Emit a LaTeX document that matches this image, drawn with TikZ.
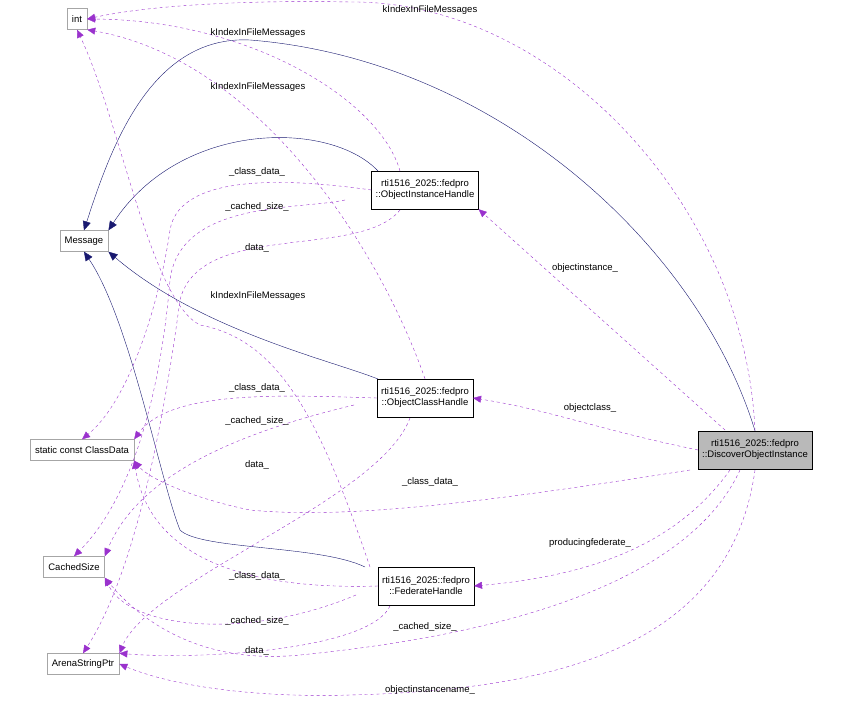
\documentclass[tikz,border=0pt]{standalone}
\usepackage{fontspec}
\setmainfont{Liberation Sans}
\usetikzlibrary{arrows.meta}
\definecolor{pur}{HTML}{9A32CD}
\definecolor{nav}{HTML}{191970}
\begin{document}
\begin{tikzpicture}[x=1pt,y=-1pt,font=\fontsize{9.5}{11}\selectfont,
  ext/.style={draw=gray!70,fill=white,minimum height=21pt,inner xsep=5pt},
  cls/.style={draw=black,fill=white,align=center,minimum height=38pt,inner xsep=4pt},
  dep/.style={pur,dashed,-{Triangle[length=8pt,width=7pt]}},
  inh/.style={nav,-{Triangle[length=9pt,width=8pt]}},
  lab/.style={fill=none,inner sep=1pt}]
\useasboundingbox (0,0) rectangle (845,703);
\node[ext] (int) at (77,19) {int};
\node[ext] (msg) at (84,241) {Message};
\node[ext] (cd) at (82,450) {static const ClassData};
\node[ext] (cs) at (74,567) {CachedSize};
\node[ext] (asp) at (83,664) {ArenaStringPtr};
\node[cls] (oih) at (425,190) {rti1516\_2025::fedpro\\::ObjectInstanceHandle};
\node[cls] (och) at (425,398) {rti1516\_2025::fedpro\\::ObjectClassHandle};
\node[cls] (fh) at (426,586) {rti1516\_2025::fedpro\\::FederateHandle};
\node[cls,fill=gray!55] (doi) at (755,450) {rti1516\_2025::fedpro\\::DiscoverObjectInstance};
% inheritance
\draw[inh] (doi.north) .. controls (700,250) and (500,60) .. (250,40) .. controls (150,35) and (110,150) .. (msg.north);
\draw[inh] (378,171) .. controls (330,120) and (180,120) .. (msg.north east);
\draw[inh] (378,379) .. controls (330,360) and (200,330) .. (msg.south east);
\draw[inh] (365,567) .. controls (320,545) and (200,550) .. (180,530) .. controls (160,480) and (130,320) .. (msg.south);
% to int
\draw[dep] (doi.north) .. controls (745,200) and (550,0) .. (350,2) .. controls (250,0) and (150,5) .. (int.east);
\node[lab] at (430,10) {kIndexInFileMessages};
\draw[dep] (400,171) .. controls (380,100) and (250,20) .. (int.east);
\node[lab] at (258,33) {kIndexInFileMessages};
\draw[dep] (och.north) .. controls (380,250) and (260,60) .. (int.south east);
\node[lab] at (258,87) {kIndexInFileMessages};
\draw[dep] (370,567) .. controls (320,420) and (280,340) .. (200,325) .. controls (150,300) and (120,120) .. (int.south);
\node[lab] at (258,296) {kIndexInFileMessages};
% from OIH
\draw[dep] (oih.west) .. controls (300,180) and (180,170) .. (170,230) .. controls (160,300) and (130,400) .. (cd.north);
\node[lab] at (257,172) {\_class\_data\_};
\draw[dep] (345,200) .. controls (300,210) and (180,200) .. (170,280) .. controls (160,400) and (130,500) .. (cs.north);
\node[lab] at (257,207) {\_cached\_size\_};
\draw[dep] (400,210) .. controls (360,260) and (200,220) .. (180,300) .. controls (160,450) and (130,580) .. (asp.north);
\node[lab] at (257,248) {data\_};
% from OCH
\draw[dep] (och.west) .. controls (280,395) and (170,390) .. (cd.north east);
\node[lab] at (257,388) {\_class\_data\_};
\draw[dep] (354,405) .. controls (250,430) and (140,470) .. (cs.north east);
\node[lab] at (257,421) {\_cached\_size\_};
\draw[dep] (410,418) .. controls (380,500) and (150,580) .. (asp.north east);
\node[lab] at (257,465) {data\_};
% from FH
\draw[dep] (fh.west) .. controls (250,590) and (150,560) .. (cd.south east);
\node[lab] at (257,576) {\_class\_data\_};
\draw[dep] (356,595) .. controls (250,640) and (130,630) .. (cs.south east);
\node[lab] at (257,621) {\_cached\_size\_};
\draw[dep] (390,606) .. controls (370,650) and (200,660) .. (asp.north east);
\node[lab] at (257,651) {data\_};
% from DOI
\draw[dep] (725,430) -- (oih.south east);
\node[lab] at (585,268) {objectinstance\_};
\draw[dep] (doi.west) .. controls (600,430) and (550,410) .. (och.east);
\node[lab] at (590,408) {objectclass\_};
\draw[dep] (690,470) .. controls (500,500) and (350,520) .. (250,510) .. controls (200,500) and (150,480) .. (cd.south east);
\node[lab] at (430,482) {\_class\_data\_};
\draw[dep] (730,470) .. controls (680,540) and (600,575) .. (fh.east);
\node[lab] at (590,543) {producingfederate\_};
\draw[dep] (740,470) .. controls (680,600) and (450,640) .. (300,655) .. controls (200,665) and (140,620) .. (cs.south east);
\node[lab] at (425,627) {\_cached\_size\_};
\draw[dep] (755,470) .. controls (730,650) and (550,690) .. (350,695) .. controls (250,698) and (170,685) .. (asp.east);
\node[lab] at (430,690) {objectinstancename\_};
\end{tikzpicture}
\end{document}
